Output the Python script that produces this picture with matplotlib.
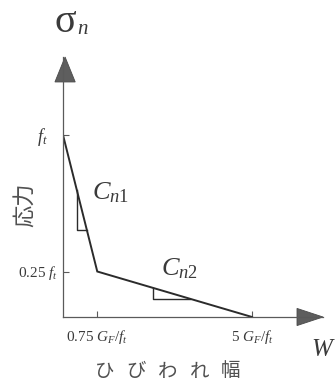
import numpy as np
import matplotlib
matplotlib.use("agg")
from matplotlib import pyplot as plt
from matplotlib.patches import Polygon

# bilinear tension-softening curve: crack width in GF/ft, normal stress in ft
crack_width = [0.0, 0.75, 5.0]
stress = [1.0, 0.25, 0.0]
width_ticks = [0.75, 5.0]
width_tick_labels = [r"$0.75\ G_F/f_t$", r"$5\ G_F/f_t$"]
stress_ticks = [0.25, 1.0]
stress_tick_labels = [r"$0.25\ f_t$", r"$f_t$"]
slope_names = [r"$C_{n1}$", r"$C_{n2}$"]
# stress levels bounding the small slope triangle on each branch
slope_marks = [(0.70, 0.48), (0.16, 0.10)]
x_label = "ひびわれ幅"
y_label = "応力"

W_PX, H_PX = 336, 386
LINE = "#2b2b2b"
AXIS = "#5a5a5a"
TEXT = "#3a3a3a"

plt.rcParams["mathtext.fontset"] = "custom"
plt.rcParams["mathtext.rm"] = "Liberation Serif"
plt.rcParams["mathtext.it"] = "Liberation Serif:italic"

# the width axis is drawn slightly compressed, as in the usual sketch
P = 0.9


def fwd(x):
    x = np.asarray(x, dtype=float)
    return np.sign(x) * np.abs(x) ** P


def inv(u):
    u = np.asarray(u, dtype=float)
    return np.sign(u) * np.abs(u) ** (1.0 / P)


def px(x, y):
    """pixel position -> figure fraction"""
    return x / W_PX, 1.0 - y / H_PX


fig = plt.figure(figsize=(W_PX / 100, H_PX / 100), dpi=100)
ax = fig.add_axes([63 / W_PX, 69 / H_PX, 260 / W_PX, 260 / H_PX])
ax.set_xscale("function", functions=(fwd, inv))
ax.set_xlim(0, float(inv(fwd(5.0) * 260 / 189)))
ax.set_ylim(0, 260 / 182)

for side in ("top", "right"):
    ax.spines[side].set_visible(False)
for side in ("left", "bottom"):
    ax.spines[side].set_color(AXIS)
    ax.spines[side].set_linewidth(0.9)

ax.plot(crack_width, stress, color=LINE, lw=1.4, solid_joinstyle="miter")

# slope triangles under each branch
u = fwd(crack_width)
for i, (y_top, y_bot) in enumerate(slope_marks):
    y0, y1 = stress[i], stress[i + 1]
    u_top = u[i] + (y0 - y_top) / (y0 - y1) * (u[i + 1] - u[i])
    u_bot = u[i] + (y0 - y_bot) / (y0 - y1) * (u[i + 1] - u[i])
    ax.plot([inv(u_top), inv(u_top), inv(u_bot)], [y_top, y_bot, y_bot],
            color=LINE, lw=1.0)

ax.set_xticks(width_ticks)
ax.set_xticklabels(width_tick_labels)
ax.set_yticks(stress_ticks)
ax.set_yticklabels([])
ax.tick_params(axis="both", direction="in", length=4, width=0.8, color=AXIS)
ax.tick_params(axis="x", pad=8, labelsize=11, labelcolor=TEXT)

# y tick labels placed by hand since they sit at different offsets
fig.text(*px(58, 273), stress_tick_labels[0], ha="right", va="center",
         fontsize=11, color=TEXT)
fig.text(*px(48, 137), stress_tick_labels[1], ha="right", va="center",
         fontsize=13, color=TEXT)

# arrow heads on both axes
ax.add_patch(Polygon([[0.008, 1.0], [-0.031, 0.904], [0.047, 0.904]],
                     closed=True, transform=ax.transAxes, clip_on=False,
                     facecolor="#5e5e5e", edgecolor="#4a4a4a", lw=0.6))
ax.add_patch(Polygon([[1.0, 0.0], [0.9, 0.033], [0.9, -0.033]],
                     closed=True, transform=ax.transAxes, clip_on=False,
                     facecolor="#5e5e5e", edgecolor="#4a4a4a", lw=0.6))

# axis names
fig.text(*px(65, 22), "σ", ha="center", va="center", fontsize=29,
         family="Liberation Serif", color=TEXT)
fig.text(*px(82, 29), "n", ha="center", va="center", fontsize=15,
         family="Liberation Serif", style="italic", color=TEXT)
fig.text(*px(322, 350), "W", ha="center", va="center", fontsize=18,
         family="Liberation Serif", style="italic", color=TEXT)
fig.text(*px(25, 205), y_label, ha="center", va="center", rotation=90,
         fontsize=16, family="Noto Sans CJK JP", color="#505050")
for i, ch in enumerate(x_label):
    fig.text(*px(105 + i * 31.5, 371), ch, ha="center", va="center",
             fontsize=14, family="Noto Sans CJK JP", color="#505050")

# slope names
fig.text(*px(111, 192), slope_names[0], ha="center", va="center",
         fontsize=19, color=TEXT)
fig.text(*px(179, 268), slope_names[1], ha="center", va="center",
         fontsize=19, color=TEXT)

fig.savefig("out.png", dpi=100)
